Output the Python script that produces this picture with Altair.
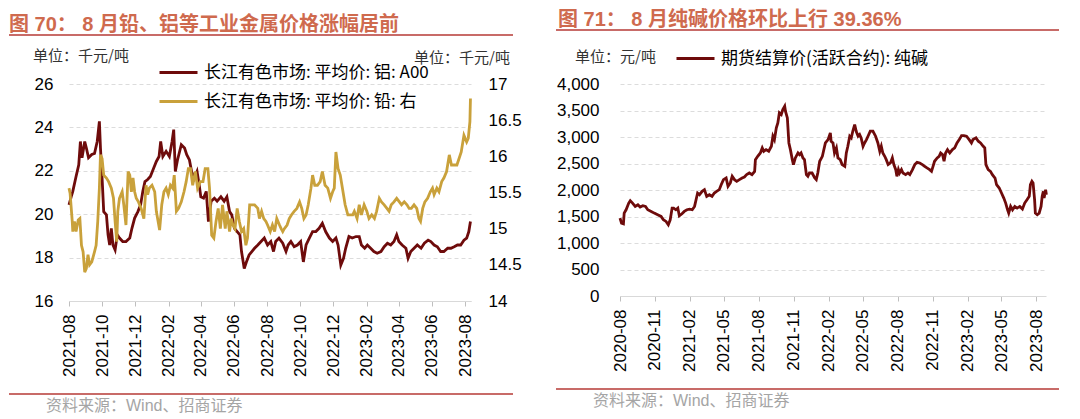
import altair as alt
import pandas as pd

# ---------------- data ----------------
AL_LABEL = "长江有色市场: 平均价: 铝: A00"
PB_LABEL = "长江有色市场: 平均价: 铅: 右"
SODA_LABEL = "期货结算价(活跃合约): 纯碱"

al_start = "2021-08-01"   # day offsets below count from this date
al_day = [0, 4, 7, 13, 18, 21, 24, 29, 32, 36,
          42, 47, 52, 56, 58, 61, 64, 69, 72, 75,
          78, 81, 85, 89, 93, 99, 105, 112, 116, 121,
          127, 132, 136, 140, 145, 150, 156, 161, 166, 169,
          173, 179, 185, 190, 193, 196, 200, 207, 213, 217,
          222, 226, 231, 236, 240, 243, 248, 253, 257, 262,
          268, 273, 280, 286, 291, 296, 300, 305, 310, 315,
          318, 323, 327, 332, 337, 342, 348, 354, 360, 366,
          372, 377, 381, 387, 394, 400, 404, 409, 415, 421,
          427, 432, 437, 443, 449, 455, 461, 467, 473, 480,
          486, 492, 496, 501, 506, 510, 516, 522, 529, 535,
          539, 545, 550, 556, 562, 568, 575, 581, 587, 593,
          599, 604, 608, 614, 621, 625, 630, 636, 642, 649,
          655, 662, 667, 673, 679, 685, 691, 698, 704, 710,
          716, 722, 728, 733, 737, 740]
al_val = [20.43, 20.8, 21.05, 21.74, 22.28, 23.35, 22.6, 23.35, 23.05, 22.6,
          22.75, 22.8, 23.35, 24.28, 23.05, 21.66, 20.12, 19.97, 19.05, 18.58,
          19.35, 18.58, 18.35, 19.05, 18.9, 18.74, 18.74, 18.9, 19.35, 19.82,
          20.12, 20.43, 21.05, 21.5, 21.6, 21.74, 22.12, 22.43, 22.66, 23.35,
          22.66, 22.9, 22.66, 23.35, 23.9, 21.97, 22.5, 23.2, 23.05, 22.74,
          22.5, 21.97, 21.66, 21.97, 21.35, 20.8, 20.74, 21.05, 19.66, 20.6,
          20.74, 20.6, 20.8, 20.6, 20.8, 20.12, 19.97, 19.35, 19.2, 19.05,
          18.28, 17.5, 17.8, 18.12, 18.28, 18.43, 18.58, 18.74, 18.9, 18.58,
          18.74, 18.28, 18.74, 18.9, 18.66, 18.28, 18.58, 18.74, 18.5, 18.58,
          18.74, 17.8, 18.58, 18.9, 19.2, 19.2, 19.35, 19.58, 19.2, 18.9,
          18.74, 18.9, 18.58, 17.66, 17.97, 18.43, 18.97, 18.9, 18.97, 18.97,
          18.58, 18.43, 18.58, 18.43, 18.28, 18.2, 18.28, 18.5, 18.66, 18.58,
          18.74, 19.05, 18.74, 18.58, 18.43, 17.97, 18.28, 18.43, 18.58, 18.43,
          18.66, 18.8, 18.74, 18.58, 18.5, 18.28, 18.28, 18.43, 18.43, 18.5,
          18.58, 18.58, 18.8, 18.9, 19.2, 19.66]

pb_day = [0, 2, 6, 7, 10, 13, 17, 20, 23, 26,
          29, 32, 35, 38, 42, 47, 50, 53, 56, 58,
          61, 64, 69, 73, 78, 82, 85, 88, 90, 93,
          98, 101, 105, 109, 112, 115, 118, 121, 124, 128,
          133, 138, 142, 145, 148, 153, 158, 161, 167, 171,
          175, 179, 183, 187, 191, 194, 198, 202, 207, 212,
          216, 220, 224, 228, 233, 237, 242, 247, 251, 256,
          259, 263, 267, 271, 275, 279, 283, 288, 291, 296,
          299, 302, 306, 310, 314, 318, 322, 326, 329, 333,
          337, 342, 348, 351, 355, 359, 363, 366, 371, 375,
          379, 383, 388, 391, 394, 397, 402, 406, 410, 415,
          420, 425, 429, 433, 437, 441, 446, 449, 453, 458,
          463, 467, 472, 477, 482, 486, 489, 492, 496, 500,
          504, 509, 514, 518, 523, 526, 531, 535, 539, 544,
          549, 553, 558, 563, 567, 572, 576, 581, 586, 590,
          594, 599, 604, 609, 613, 618, 623, 627, 631, 636,
          641, 645, 648, 652, 656, 661, 666, 670, 673, 678,
          682, 687, 691, 696, 701, 705, 710, 715, 719, 723,
          728, 733, 736, 739, 740]
pb_val = [15.56, 15.49, 15.1, 14.96, 15.1, 14.96, 15.12, 15.14, 14.77, 14.68,
          14.4, 14.45, 14.64, 14.5, 14.54, 14.68, 14.77, 15.1, 15.56, 16.02,
          15.97, 15.74, 15.7, 15.65, 15.56, 15.42, 15.1, 14.82, 15.24, 15.42,
          15.51, 15.33, 15.05, 15.79, 15.74, 15.51, 15.7, 15.51, 15.42, 15.37,
          15.28, 15.14, 15.6, 15.47, 15.56, 15.6, 15.51, 15.24, 14.98, 15.33,
          15.51, 15.56, 15.47, 15.6, 15.56, 15.74, 15.24, 15.28, 15.37, 15.51,
          15.65, 15.83, 15.83, 15.6, 15.79, 15.56, 15.65, 15.65, 15.83, 15.83,
          15.56, 14.91, 14.87, 15.1, 15.28, 15.0, 15.33, 15.0, 15.24, 14.96,
          15.14, 15.05, 15.0, 15.28, 15.1, 14.96, 15.0, 14.77, 14.87, 15.33,
          15.33, 15.33, 15.28, 15.14, 15.24, 15.14, 15.1, 15.05, 14.96, 15.05,
          14.96, 15.14, 15.05, 15.0, 14.96, 15.0, 15.05, 15.14, 15.19, 15.24,
          15.28, 15.37, 15.28, 15.14, 15.19, 15.33, 15.56, 15.74, 15.6, 15.6,
          15.65, 15.79, 15.6, 15.56, 15.42, 15.51, 15.56, 16.06, 15.83, 15.74,
          15.56, 15.33, 15.19, 15.19, 15.19, 15.24, 15.14, 15.33, 15.19, 15.33,
          15.24, 15.14, 15.19, 15.14, 15.24, 15.42, 15.37, 15.33, 15.28, 15.24,
          15.33, 15.37, 15.42, 15.37, 15.33, 15.37, 15.33, 15.28, 15.28, 15.33,
          15.28, 15.14, 15.1, 15.28, 15.37, 15.42, 15.51, 15.56, 15.47, 15.56,
          15.51, 15.65, 15.7, 15.79, 16.02, 15.88, 15.88, 15.88, 15.97, 16.06,
          16.29, 16.2, 16.25, 16.48, 16.8]

soda_start = "2020-08-01"   # day offsets below count from this date
soda_day = [0, 4, 9, 11, 16, 23, 27, 33, 40, 47,
            53, 60, 67, 73, 82, 90, 99, 108, 114, 121,
            127, 132, 137, 141, 147, 152, 156, 163, 169, 176,
            183, 190, 196, 200, 204, 209, 216, 222, 228, 235,
            242, 248, 254, 261, 266, 272, 279, 284, 290, 295,
            301, 307, 314, 321, 327, 333, 340, 347, 354, 356,
            362, 369, 374, 378, 384, 391, 398, 402, 406, 411,
            415, 419, 424, 428, 433, 435, 440, 444, 448, 453,
            456, 461, 468, 472, 476, 481, 485, 490, 494, 498,
            505, 512, 516, 520, 525, 532, 535, 540, 547, 553,
            555, 560, 564, 569, 573, 579, 584, 591, 595, 599,
            604, 608, 612, 617, 621, 626, 630, 634, 639, 643,
            648, 652, 658, 665, 672, 678, 683, 687, 691, 696,
            700, 705, 711, 716, 720, 725, 728, 732, 735, 740,
            744, 751, 757, 762, 769, 775, 781, 788, 795, 801,
            807, 814, 819, 823, 827, 834, 839, 843, 848, 852,
            856, 861, 867, 874, 880, 886, 892, 898, 904, 911,
            918, 924, 928, 936, 942, 948, 955, 959, 962, 968,
            974, 979, 986, 990, 997, 1003, 1009, 1014, 1019, 1022,
            1027, 1032, 1038, 1044, 1051, 1058, 1064, 1070, 1076, 1079,
            1083, 1086, 1090, 1092, 1097, 1102, 1107, 1110, 1113, 1115,
            1119, 1121]
soda_val = [1470, 1375, 1363, 1564, 1627, 1753, 1797, 1753, 1690, 1722,
            1678, 1703, 1690, 1627, 1596, 1564, 1533, 1501, 1438, 1407,
            1344, 1438, 1659, 1659, 1627, 1659, 1514, 1552, 1596, 1627,
            1640, 1627, 1690, 1817, 1943, 1911, 1974, 2006, 1880, 1911,
            1880, 1943, 1974, 2006, 2100, 2195, 2226, 2069, 2132, 2258,
            2195, 2163, 2195, 2226, 2245, 2290, 2321, 2290, 2352, 2573,
            2636, 2699, 2794, 2731, 2762, 2731, 2825, 3015, 2951, 3172,
            3267, 3456, 3424, 3519, 3582, 3487, 3361, 2888, 2762, 2573,
            2479, 2605, 2699, 2668, 2699, 2605, 2573, 2290, 2258, 2321,
            2321, 2226, 2195, 2321, 2542, 2636, 2731, 2888, 2951, 3078,
            2920, 2888, 2699, 2794, 2605, 2573, 2479, 2447, 2699, 2825,
            3015, 2983, 3109, 3235, 3109, 3015, 3046, 2983, 2825, 2888,
            2951, 3015, 3109, 3109, 3015, 2888, 2731, 2825, 2699, 2636,
            2573, 2479, 2510, 2605, 2479, 2384, 2258, 2384, 2321, 2384,
            2321, 2290, 2321, 2290, 2384, 2479, 2523, 2510, 2479, 2447,
            2416, 2384, 2352, 2447, 2542, 2605, 2636, 2699, 2668, 2542,
            2699, 2762, 2699, 2762, 2794, 2888, 2951, 3027, 3027, 3015,
            2951, 2888, 2951, 2983, 2920, 2888, 2825, 2794, 2479, 2384,
            2352, 2290, 2226, 2100, 2037, 1943, 1848, 1753, 1627, 1564,
            1690, 1627, 1690, 1659, 1690, 1640, 1753, 1817, 1880, 2100,
            2163, 2132, 1817, 1564, 1533, 1564, 1690, 1880, 1974, 1848,
            2006, 1911]

al_ticks = ["2021-08", "2021-10", "2021-12", "2022-02", "2022-04", "2022-06", "2022-08",
            "2022-10", "2022-12", "2023-02", "2023-04", "2023-06", "2023-08"]
soda_ticks = ["2020-08", "2020-11", "2021-02", "2021-05", "2021-08", "2021-11", "2022-02",
              "2022-05", "2022-08", "2022-11", "2023-02", "2023-05", "2023-08"]
al_axis_vals = [16, 18, 20, 22, 24, 26]
pb_axis_vals = [14, 14.5, 15, 15.5, 16, 16.5, 17]
soda_axis_vals = [0, 500, 1000, 1500, 2000, 2500, 3000, 3500, 4000]

TITLE_L = "图 70：  8 月铅、铝等工业金属价格涨幅居前"
TITLE_R = "图 71：  8 月纯碱价格环比上行 39.36%"
UNIT_L = "单位：千元/吨"
UNIT_R = "单位：元/吨"
SOURCE = "资料来源：Wind、招商证券"

# ---------------- styles ----------------
LAT = "Liberation Sans"
CJK = "Noto Sans CJK SC"
MIX = "Liberation Sans, Noto Sans CJK SC"
AL_COLOR = "#6E0B0B"
PB_COLOR = "#C9A13B"
TITLE_COLOR = "#CF6A4E"
RULE_COLOR = "#B63A36"
SRC_COLOR = "#A5A5A5"
TOP_PAD = 2


def make_df(start, days, vals, label):
    return pd.DataFrame({
        "date": pd.Timestamp(start) + pd.to_timedelta(days, unit="D"),
        "value": vals,
        "series": label,
    })


def dt(s, day=1):
    y, m = s.split("-")
    return alt.DateTime(year=int(y), month=int(m), date=day)


def txt(s, x, y, size, color, weight="normal", font=CJK, baseline="alphabetic"):
    return alt.Chart(pd.DataFrame({"t": [s]})).mark_text(
        align="left", baseline=baseline, fontSize=size, font=font,
        fontWeight=weight, color=color
    ).encode(text="t:N", x=alt.value(x), y=alt.value(y))


def hrule(x1, x2, y, color, w):
    return alt.Chart(pd.DataFrame({"a": [0]})).mark_rule(color=color, strokeWidth=w).encode(
        x=alt.value(x1), x2=alt.value(x2), y=alt.value(y))


def x_axis(ticks):
    return alt.Axis(values=[dt(t) for t in ticks], format="%Y-%m", labelAngle=-90,
                    labelFont=LAT, labelFontSize=17, labelColor="#000000",
                    labelPadding=8, labelFlush=False, labelOverlap=False,
                    tickColor="#BFBFBF", tickSize=5, domainColor="#D9D9D9",
                    domainWidth=1, grid=False, title=None)


def legend(x, y, row_pad):
    return alt.Legend(orient="none", legendX=x, legendY=y, title=None, direction="vertical",
                      symbolType="stroke", symbolSize=1444, symbolStrokeWidth=3,
                      labelFont=CJK, labelFontSize=17, labelColor="#000000",
                      labelLimit=500, labelOffset=5, rowPadding=row_pad, padding=0)


al_df = make_df(al_start, al_day, al_val, AL_LABEL)
pb_df = make_df(al_start, pb_day, pb_val, PB_LABEL)
soda_df = make_df(soda_start, soda_day, soda_val, SODA_LABEL)

LINE_W = 2.8

# ---------------- left panel ----------------
W1, H1 = 402, 217
x_left = alt.X("date:T", title=None,
               scale=alt.Scale(domain=[dt("2021-08", 1), dt("2023-08", 12)]),
               axis=x_axis(al_ticks))
color_left = alt.Color("series:N",
                       scale=alt.Scale(domain=[AL_LABEL, PB_LABEL], range=[AL_COLOR, PB_COLOR]),
                       legend=legend(89, -32, -8))

al_line = alt.Chart(al_df).mark_line(strokeWidth=LINE_W).encode(
    x=x_left,
    y=alt.Y("value:Q", title=None,
            scale=alt.Scale(domain=[16, 26], nice=False, zero=False),
            axis=alt.Axis(values=al_axis_vals, format="d", grid=True, gridDash=[4, 3],
                          gridColor="#DCDCDC", domain=False, ticks=False, tickSize=0,
                          labelPadding=16, labelFont=LAT, labelFontSize=17,
                          labelColor="#000000", title=None)),
    color=color_left,
)
pb_line = alt.Chart(pb_df).mark_line(strokeWidth=LINE_W).encode(
    x=x_left,
    y=alt.Y("value:Q", title=None,
            scale=alt.Scale(domain=[14, 17], nice=False, zero=False),
            axis=alt.Axis(orient="right", values=pb_axis_vals, format="~g", grid=False,
                          domain=False, ticks=False, tickSize=0, labelPadding=17,
                          labelFont=LAT, labelFontSize=17, labelColor="#000000",
                          title=None)),
    color=color_left,
)

left = alt.layer(
    al_line, pb_line,
    txt(TITLE_L, -60, -71 + TOP_PAD, 20, TITLE_COLOR, weight="bold", font=MIX, baseline="top"),
    hrule(-60, 444, -49, RULE_COLOR, 1.5),
    txt(UNIT_L, -36, -23, 15, "#333333"),
    txt(UNIT_L, 345, -21, 15, "#333333"),
    hrule(-60, 444, 310, RULE_COLOR, 1.5),
    txt(SOURCE, -23, 327, 16, SRC_COLOR, font=MIX),
).resolve_scale(y="independent").properties(width=W1, height=H1)

# ---------------- right panel ----------------
W2, H2 = 426, 212
soda_line = alt.Chart(soda_df).mark_line(strokeWidth=LINE_W).encode(
    x=alt.X("date:T", title=None,
            scale=alt.Scale(domain=[dt("2020-08", 1), dt("2023-08", 26)]),
            axis=x_axis(soda_ticks)),
    y=alt.Y("value:Q", title=None,
            scale=alt.Scale(domain=[0, 4000], nice=False),
            axis=alt.Axis(values=soda_axis_vals, format=",d", grid=True, gridDash=[4, 3],
                          gridColor="#DCDCDC", domain=False, ticks=False, tickSize=0,
                          labelPadding=21, labelFont=LAT, labelFontSize=17,
                          labelColor="#000000", title=None)),
    color=alt.Color("series:N",
                    scale=alt.Scale(domain=[SODA_LABEL], range=[AL_COLOR]),
                    legend=legend(55, -46, 0)),
)

right = alt.layer(
    soda_line,
    txt(TITLE_R, -62, -76 + TOP_PAD, 20, TITLE_COLOR, weight="bold", font=MIX, baseline="top"),
    hrule(-64, 439, -54, RULE_COLOR, 1.5),
    txt(UNIT_R, -45, -22, 15, "#333333"),
    hrule(-64, 439, 305, RULE_COLOR, 1.5),
    txt(SOURCE, -27, 322, 16, SRC_COLOR, font=MIX),
).properties(width=W2, height=H2)

chart = alt.hconcat(left, right, spacing=33).resolve_scale(
    color="independent").resolve_legend(color="independent").properties(
    padding={"left": 0, "top": TOP_PAD, "right": 0, "bottom": 0},
    background="white").configure_view(stroke=None)

chart.save("out.html", embed_options={"renderer": "svg", "actions": False})
